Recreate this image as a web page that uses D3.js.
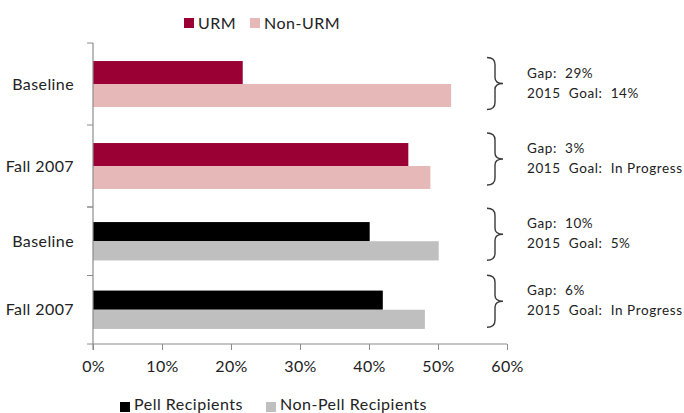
<!DOCTYPE html>
<html><head><meta charset="utf-8">
<script src="https://cdn.jsdelivr.net/npm/d3@7"></script>
<style>
body{margin:0;background:#fff;}
svg text{font-family:Lato,"Noto Sans",sans-serif;fill:#222;}
</style>
</head><body>
<svg id="chart" width="684" height="413"></svg>
<script>
// ---- data ----
const categories = ["Baseline", "Fall 2007"];
const urmSeries = ["URM", "Non-URM"];
const pellSeries = ["Pell Recipients", "Non-Pell Recipients"];
const urmValues = [21.7, 45.7];
const nonUrmValues = [51.9, 48.9];
const pellValues = [40.1, 42.0];
const nonPellValues = [50.1, 48.1];
const gapLabels = ["Gap:  29%", "Gap:  3%", "Gap:  10%", "Gap:  6%"];
const goalLabels = ["2015  Goal:  14%", "2015  Goal:  In Progress", "2015  Goal:  5%", "2015  Goal:  In Progress"];
const xTicks = [0, 10, 20, 30, 40, 50, 60];

// ---- layout ----
const axisX0 = 93, axisX1 = 507;
const topPanel = [43, 207], bottomPanel = [207, 344];
const annotNudge = [-0.5, -7, -7, -8.5];
const colors = {"URM": "#9b0034", "Non-URM": "#e6b8b7", "Pell Recipients": "#000000", "Non-Pell Recipients": "#bfbfbf"};
const axisColor = "#8c8c8c";

const svg = d3.select("#chart");
const x = d3.scaleLinear().domain([0, 60]).range([axisX0, axisX1]);

const panels = [
  {range: topPanel, series: urmSeries, values: [urmValues, nonUrmValues]},
  {range: bottomPanel, series: pellSeries, values: [pellValues, nonPellValues]}
];

const centers = [];
panels.forEach(p => {
  const y0 = d3.scaleBand().domain(categories).range(p.range).padding(0);
  const bw = y0.bandwidth();
  const y1 = d3.scaleBand().domain(p.series).range([bw * 0.22, bw * 0.78]).padding(0);
  const g = svg.append("g");
  categories.forEach((c, ci) => {
    p.series.forEach((s, si) => {
      g.append("rect")
        .attr("x", x(0))
        .attr("y", y0(c) + y1(s))
        .attr("width", x(p.values[si][ci]) - x(0))
        .attr("height", y1.bandwidth())
        .attr("fill", colors[s]);
    });
    const cy = y0(c) + bw / 2;
    centers.push(cy);
    g.append("text")
      .attr("x", 74).attr("y", cy).attr("dy", "0.35em")
      .attr("text-anchor", "end").attr("font-size", 16)
      .attr("letter-spacing", 0.4)
      .text(c);
  });
  const bounds = categories.map(c => y0(c)).concat([p.range[1]]);
  bounds.forEach(b => {
    svg.append("line").attr("x1", axisX0 - 6).attr("x2", axisX0).attr("y1", b).attr("y2", b)
      .attr("stroke", axisColor).attr("stroke-width", 1);
  });
});

// vertical axis line
svg.append("line").attr("x1", axisX0).attr("x2", axisX0).attr("y1", topPanel[0]).attr("y2", bottomPanel[1] + 6)
  .attr("stroke", axisColor).attr("stroke-width", 1.2);

// x axis
const xAxis = d3.axisBottom(x).tickValues(xTicks).tickFormat(d => d + "%").tickSize(6).tickPadding(11);
const xa = svg.append("g").attr("transform", `translate(0,${bottomPanel[1]})`).call(xAxis);
xa.select(".domain").attr("stroke", axisColor).attr("stroke-width", 1.2).attr("d", `M${axisX0},0H${axisX1}`);
xa.selectAll(".tick line").attr("stroke", axisColor);
xa.selectAll(".tick text").attr("font-size", 16).attr("font-family", "Lato,'Noto Sans',sans-serif")
  .attr("fill", "#222").attr("letter-spacing", 0.3);

// annotations (braces + text)
centers.forEach((cy0, i) => {
  const cy = cy0 + annotNudge[i];
  const t = cy - 26, b = cy + 26, xl = 487, xm = 495, xp = 503;
  svg.append("path")
    .attr("d", `M${xl},${t} Q${xm},${t} ${xm},${t + 7} L${xm},${cy - 6} Q${xm},${cy} ${xp},${cy} Q${xm},${cy} ${xm},${cy + 6} L${xm},${b - 7} Q${xm},${b} ${xl},${b}`)
    .attr("fill", "none").attr("stroke", "#3a3a3a").attr("stroke-width", 1.4);
  svg.append("text").attr("x", 527).attr("y", cy - 6).attr("font-size", 13.5).attr("letter-spacing", 0.6)
    .style("white-space", "pre").text(gapLabels[i]);
  svg.append("text").attr("x", 527).attr("y", cy + 14).attr("font-size", 13.5).attr("letter-spacing", 0.6)
    .style("white-space", "pre").text(goalLabels[i]);
});

// legends
function legend(series, xs, y, textY) {
  series.forEach((s, i) => {
    svg.append("rect").attr("x", xs[i]).attr("y", y).attr("width", 10).attr("height", 10).attr("fill", colors[s]);
    svg.append("text").attr("x", xs[i] + 14).attr("y", textY).attr("font-size", 16)
      .attr("letter-spacing", 0.5).text(s);
  });
}
legend(urmSeries, [184, 250], 18, 29);
legend(pellSeries, [120, 266], 402, 410);
</script>
</body></html>
